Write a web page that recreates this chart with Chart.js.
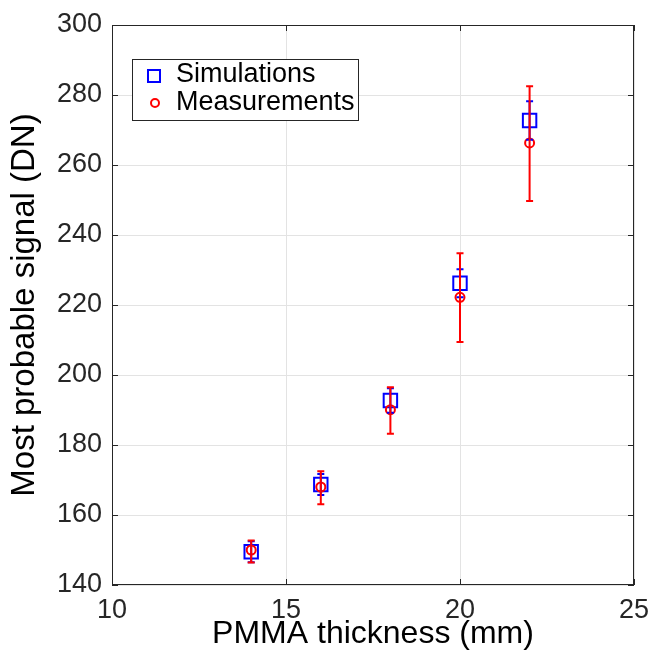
<!DOCTYPE html>
<html><head><meta charset="utf-8">
<script src="https://cdn.jsdelivr.net/npm/chart.js@4"></script>
<style>html,body{margin:0;padding:0;background:#fff}#wrap{width:656px;height:661px}</style>
</head><body><div id="wrap"><canvas id="c" width="656" height="661"></canvas></div>
<script>
const thickness = [14, 16, 18, 20, 22];
const simValues = [149.5, 168.7, 192.7, 226.2, 272.7];
const simErr = [3, 3, 3.5, 4, 5.5];
const measValues = [150, 168, 190.1, 222.2, 266.3];
const measErrLow = [3.6, 4.9, 6.9, 12.8, 16.6];
const measErrHigh = [2.7, 4.5, 6.4, 12.6, 16.2];
const xTicks = [10, 15, 20, 25];
const yTicks = [140, 160, 180, 200, 220, 240, 260, 280, 300];
const seriesNames = ['Simulations', 'Measurements'];
const FONT = '"Liberation Sans", Arial, Helvetica, sans-serif';

const errorBars = {
  id: 'errorBars',
  afterDatasetsDraw(chart) {
    const ctx = chart.ctx, xs = chart.scales.x, ys = chart.scales.y;
    const draw = (vals, lo, hi, color, cap) => {
      ctx.save(); ctx.strokeStyle = color; ctx.lineWidth = 2;
      vals.forEach((v, i) => {
        const px = xs.getPixelForValue(thickness[i]);
        const t = ys.getPixelForValue(v + hi[i]), b = ys.getPixelForValue(v - lo[i]);
        ctx.beginPath();
        ctx.moveTo(px, t); ctx.lineTo(px, b);
        ctx.moveTo(px - cap, t); ctx.lineTo(px + cap, t);
        ctx.moveTo(px - cap, b); ctx.lineTo(px + cap, b);
        ctx.stroke();
      });
      ctx.restore();
    };
    draw(simValues, simErr, simErr, '#0000ff', 3.5);
    draw(measValues, measErrLow, measErrHigh, '#ff0000', 3.5);
    // inner ticks and box
    const a = chart.chartArea;
    ctx.save(); ctx.strokeStyle = '#262626'; ctx.lineWidth = 1;
    xTicks.forEach(v => { const p = Math.round(xs.getPixelForValue(v)) + 0.5;
      ctx.beginPath(); ctx.moveTo(p, a.bottom); ctx.lineTo(p, a.bottom - 6);
      ctx.moveTo(p, a.top); ctx.lineTo(p, a.top + 6); ctx.stroke(); });
    yTicks.forEach(v => { const p = Math.round(ys.getPixelForValue(v)) + 0.5;
      ctx.beginPath(); ctx.moveTo(a.left, p); ctx.lineTo(a.left + 6, p);
      ctx.moveTo(a.right, p); ctx.lineTo(a.right - 6, p); ctx.stroke(); });
    ctx.strokeRect(a.left + 0.5, a.top + 0.5, a.right - a.left - 1, a.bottom - a.top - 1);
    ctx.restore();
    // legend
    const lx = 132, ly = 59, lw = 226, lh = 61;
    ctx.save();
    ctx.fillStyle = '#fff'; ctx.fillRect(lx, ly, lw, lh);
    ctx.strokeStyle = '#262626'; ctx.lineWidth = 1; ctx.strokeRect(lx + 0.5, ly + 0.5, lw, lh);
    ctx.strokeStyle = '#0000ff'; ctx.lineWidth = 2; ctx.strokeRect(148, 70, 12, 12);
    ctx.strokeStyle = '#ff0000'; ctx.beginPath(); ctx.arc(155, 103, 4, 0, Math.PI * 2); ctx.stroke();
    ctx.fillStyle = '#000'; ctx.font = '27px ' + FONT; ctx.textBaseline = 'middle';
    ctx.fillText(seriesNames[0], 176, 75); ctx.fillText(seriesNames[1], 176, 102.5);
    ctx.restore();
  }
};

new Chart(document.getElementById('c'), {
  type: 'scatter',
  data: {
    datasets: [
      { label: seriesNames[0], data: thickness.map((x, i) => ({x, y: simValues[i]})),
        pointStyle: 'rect', pointRadius: 9.5, borderColor: '#0000ff', backgroundColor: 'rgba(0,0,0,0)', borderWidth: 2, order: 2 },
      { label: seriesNames[1], data: thickness.map((x, i) => ({x, y: measValues[i]})),
        pointStyle: 'circle', pointRadius: 4.5, borderColor: '#ff0000', backgroundColor: 'rgba(0,0,0,0)', borderWidth: 2, order: 1 }
    ]
  },
  options: {
    responsive: false, animation: false, devicePixelRatio: 1,
    layout: { padding: { top: 25, right: 22, left: 0, bottom: 0 } },
    plugins: { legend: { display: false }, tooltip: { enabled: false } },
    scales: {
      x: { type: 'linear', min: 10, max: 25,
        afterBuildTicks: s => { s.ticks = xTicks.map(v => ({value: v})); },
        afterFit: s => { s.height = 76; s.paddingLeft = 0; s.paddingRight = 0; },
        grid: { color: '#e3e3e3', drawTicks: false },
        border: { display: false },
        ticks: { color: '#262626', font: { family: FONT, size: 27 }, padding: 9 },
        title: { display: true, text: 'PMMA thickness (mm)', color: '#000', font: { family: FONT, size: 32 }, padding: 8 } },
      y: { type: 'linear', min: 140, max: 300,
        afterBuildTicks: s => { s.ticks = yTicks.map(v => ({value: v})); },
        afterFit: s => { s.width = 112; s.paddingTop = 0; s.paddingBottom = 0; },
        grid: { color: '#e3e3e3', drawTicks: false },
        border: { display: false },
        ticks: { color: '#262626', font: { family: FONT, size: 27 }, padding: 10 },
        title: { display: true, text: 'Most probable signal (DN)', color: '#000', font: { family: FONT, size: 33 }, padding: 5 } }
    }
  },
  plugins: [errorBars]
});
</script></body></html>
